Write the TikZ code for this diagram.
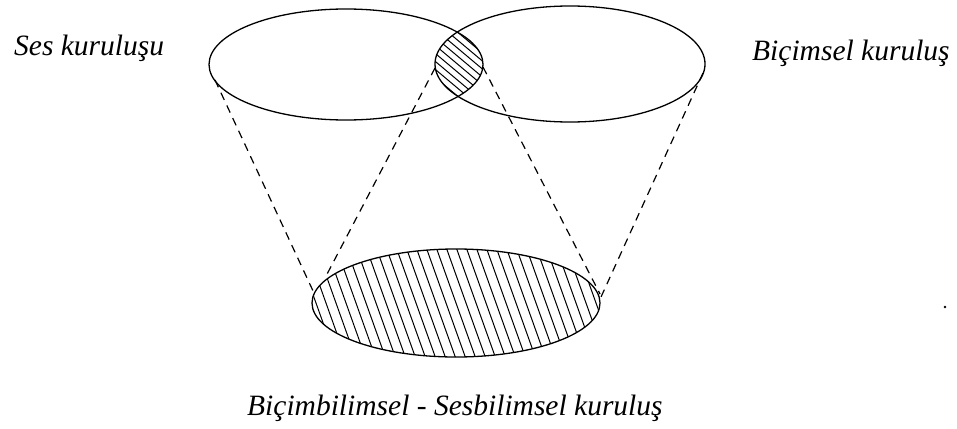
\documentclass[tikz,border=0pt]{standalone}
\usepackage{fontspec}
\setmainfont{Liberation Serif}
\begin{document}
\begin{tikzpicture}[x=1pt,y=-1pt,
  ell/.style={draw, line width=1.3pt},
  proj/.style={line width=1.2pt, dash pattern=on 8pt off 6pt},
  hatchline/.style={line width=1pt},
  lab/.style={inner sep=0pt, anchor=base west, font=\itshape\fontsize{29.5}{34}\selectfont}]
\useasboundingbox (0,0) rectangle (957,428);
\fill[white] (0,0) rectangle (957,428);

% lens hatch
\begin{scope}
  \clip (346,64.5) ellipse [x radius=137, y radius=55.5];
  \clip (570,64) ellipse [x radius=135, y radius=58];
  \foreach \k in {-64,-56,...,64}
    \draw[hatchline] (398,14.1+\k) -- (518,114.9+\k);
\end{scope}

% bottom ellipse hatch
\begin{scope}
  \clip (456,303) ellipse [x radius=144, y radius=54];
  \foreach \k in {-200,-190,...,200}
    \draw[hatchline] (456+\k-25,233) -- (456+\k+25,373);
\end{scope}

% ellipses
\draw[ell] (346,64.5) ellipse [x radius=137, y radius=55.5];
\draw[ell] (570,64) ellipse [x radius=135, y radius=58];
\draw[ell] (456,303) ellipse [x radius=144, y radius=54];

% projection lines
\coordinate (L1a) at (215,80);  \coordinate (L1b) at (314,293);
\coordinate (L2a) at (435,68);  \coordinate (L2b) at (325,278);
\coordinate (L3a) at (483,67);  \coordinate (L3b) at (600,294);
\coordinate (L4a) at (703,73);  \coordinate (L4b) at (601,297);
\draw[proj] (L1a) -- (L1b);
\draw[proj] (L2a) -- (L2b);
\draw[proj] (L3a) -- (L3b);
\draw[proj] (L4a) -- (L4b);

% labels
\node[lab] (ses) at (14,56) {Ses kuruluşu};
\node[lab] (bic) at (752,60) {Biçimsel kuruluş};
\node[lab] (bot) at (247,415) {Biçimbilimsel - Sesbilimsel kuruluş};

\fill (945,307) circle (1.3);
\end{tikzpicture}
\end{document}
